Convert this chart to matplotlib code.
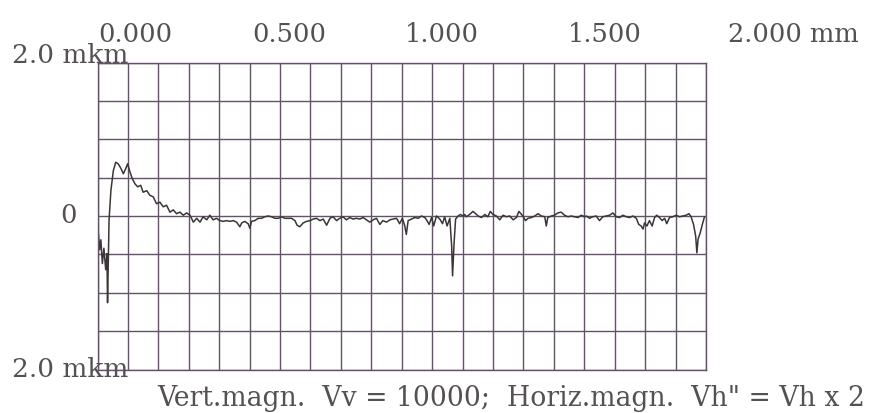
import matplotlib
matplotlib.use("Agg")
import matplotlib.pyplot as plt
import numpy as np

x_mm = [
    0.003, 0.007, 0.011, 0.016, 0.021, 0.027, 0.031, 0.033, 0.038, 0.044,
    0.052, 0.060, 0.068, 0.077, 0.085, 0.093, 0.099, 0.107, 0.114, 0.123,
    0.132, 0.142, 0.150, 0.162, 0.172, 0.183, 0.194, 0.205, 0.216, 0.227,
    0.238, 0.249, 0.260, 0.271, 0.282, 0.293, 0.304, 0.315, 0.326, 0.337,
    0.347, 0.359, 0.369, 0.380, 0.391,
    0.402, 0.413, 0.424, 0.435, 0.446, 0.457, 0.468, 0.474, 0.484, 0.495,
    0.501, 0.506, 0.517, 0.528, 0.539, 0.550, 0.561, 0.572, 0.583, 0.594,
    0.605, 0.616, 0.627, 0.638, 0.649, 0.656, 0.665, 0.676, 0.687, 0.698,
    0.709, 0.720, 0.731, 0.742, 0.753, 0.764, 0.774, 0.786, 0.796, 0.807,
    0.818, 0.829, 0.840, 0.851, 0.862, 0.873, 0.884, 0.895, 0.906, 0.917,
    0.928, 0.938, 0.950, 0.961, 0.971, 0.983, 0.993, 1.002, 1.010, 1.015,
    1.021, 1.032, 1.043, 1.054, 1.065, 1.076, 1.083, 1.090, 1.098, 1.105,
    1.114, 1.125, 1.134, 1.141, 1.149, 1.158, 1.164, 1.167, 1.172, 1.177,
    1.185, 1.193, 1.201, 1.207,
    1.212, 1.223, 1.234, 1.243, 1.251, 1.262, 1.273, 1.283, 1.291, 1.300,
    1.311, 1.322, 1.333, 1.344, 1.355, 1.366, 1.377, 1.385, 1.396, 1.407,
    1.415, 1.426, 1.437, 1.448, 1.459, 1.470, 1.475, 1.480, 1.492, 1.502,
    1.513, 1.524, 1.535, 1.546, 1.557, 1.568, 1.579, 1.590,
    1.601, 1.607, 1.617, 1.628, 1.639, 1.650, 1.661, 1.672, 1.683, 1.694,
    1.705, 1.716, 1.727, 1.738, 1.749, 1.760, 1.771, 1.779, 1.787, 1.793,
    1.798, 1.806, 1.814, 1.823, 1.831, 1.838, 1.847, 1.856, 1.864, 1.871,
    1.880, 1.891, 1.902, 1.913, 1.924, 1.935, 1.944, 1.951, 1.959, 1.966,
    1.970, 1.974, 1.981, 1.988, 1.995,
]
z_mkm = [
    -0.23, -0.44, -0.31, -0.62, -0.42, -0.70, -0.49, -1.13, -0.05, 0.33,
    0.59, 0.70, 0.68, 0.62, 0.55, 0.62, 0.68, 0.57, 0.49, 0.42,
    0.38, 0.40, 0.31, 0.33, 0.27, 0.25, 0.16, 0.18, 0.12, 0.14,
    0.05, 0.08, 0.03, 0.05, 0.01, 0.04, 0.01, -0.08, -0.03, -0.08,
    -0.01, -0.05, 0.01, -0.05, -0.03,
    -0.06, -0.07, -0.06, -0.07, -0.06, -0.08, -0.14, -0.09, -0.07, -0.10,
    -0.16, -0.07, -0.06, -0.03, -0.03, -0.01, 0.00, -0.01, -0.03, -0.03,
    -0.01, -0.03, -0.03, -0.03, -0.06, -0.12, -0.14, -0.09, -0.07, -0.06,
    -0.04, -0.03, -0.06, -0.04, -0.12, -0.03, -0.01, -0.06, -0.03, -0.01,
    -0.05, -0.02, -0.04, -0.03, -0.04, -0.02, -0.05, -0.08, -0.05, -0.03,
    -0.11, -0.06, -0.08, -0.05, -0.04, -0.03, -0.10, -0.03, -0.13, -0.24,
    -0.06, -0.04, -0.02, -0.03, 0.00, -0.02, -0.06, -0.11, -0.02, -0.13,
    0.00, -0.04, -0.10, -0.01, -0.13, -0.03, -0.39, -0.78, -0.35, -0.04,
    0.00, 0.02, 0.00, 0.02,
    -0.01, 0.02, 0.06, 0.03, 0.00, -0.02, 0.02, -0.01, 0.06, 0.02,
    0.00, -0.05, 0.01, -0.01, 0.00, -0.05, -0.02, 0.06, 0.01, -0.06,
    -0.03, -0.02, 0.00, 0.03, 0.00, -0.01, -0.13, -0.02, 0.00, 0.01,
    0.04, 0.05, 0.01, -0.01, 0.00, -0.01, -0.02, 0.01,
    -0.01, 0.00, -0.03, -0.01, 0.00, -0.06, -0.01, 0.00, 0.01, 0.04,
    -0.01, -0.02, 0.01, -0.01, -0.02, 0.00, -0.03, -0.11, -0.13, -0.17,
    -0.09, -0.13, -0.06, -0.13, -0.02, 0.01, -0.02, -0.06, -0.03, -0.10,
    -0.02, -0.01, 0.01, -0.01, 0.00, 0.01, 0.03, -0.01, -0.11, -0.26,
    -0.48, -0.30, -0.22, -0.11, -0.01,
]

x_labels = ["0.000", "0.500", "1.000", "1.500", "2.000 mm"]
y_label_top = "2.0 mkm"
y_label_mid = "0"
y_label_bot = "2.0 mkm"
legende = "Vert.magn.  Vv = 10000;  Horiz.magn.  Vh\" = Vh x 2"

W, H = 877, 414
couleur_grille = "#65526a"
couleur_texte = "#545054"
couleur_trace = "#3b3539"

plt.rcParams["font.family"] = ["DejaVu Serif"]

fig = plt.figure(figsize=(W / 100, H / 100), dpi=100)
fig.patch.set_facecolor("white")

# position du cadre en pixels
gx0, gx1, gy0, gy1 = 97.5, 706, 63.5, 370.5
ax = fig.add_axes([gx0 / W, 1 - gy1 / H, (gx1 - gx0) / W, (gy1 - gy0) / H])
ax.set_xlim(0, 2.0)
ax.set_ylim(-2.0, 2.0)
ax.set_xticks(np.arange(0, 2.001, 0.1))
ax.set_yticks(np.arange(-2.0, 2.001, 0.5))
ax.tick_params(length=0, labelbottom=False, labelleft=False)
ax.grid(True, color=couleur_grille, linewidth=1.0)
for sp in ax.spines.values():
    sp.set_color(couleur_grille)
    sp.set_linewidth(1.0)

ax.plot(x_mm, z_mkm, color=couleur_trace, linewidth=1.1)

def fig_text(px, py, s, size=18.5, **kw):
    fig.text(px / W, 1 - py / H, s, color=couleur_texte, fontsize=size,
             va="baseline", **kw)

label_px = [98, 252, 405, 568, 728]
for px, s in zip(label_px, x_labels):
    fig_text(px, 42, s, ha="left")

fig_text(12, 63, y_label_top, ha="left", size=19)
fig_text(77, 223, y_label_mid, ha="right")
fig_text(12, 377, y_label_bot, ha="left", size=19)
fig_text(157, 406, legende, ha="left", size=19.2)

plt.savefig("out.png", dpi=100)
plt.close(fig)
